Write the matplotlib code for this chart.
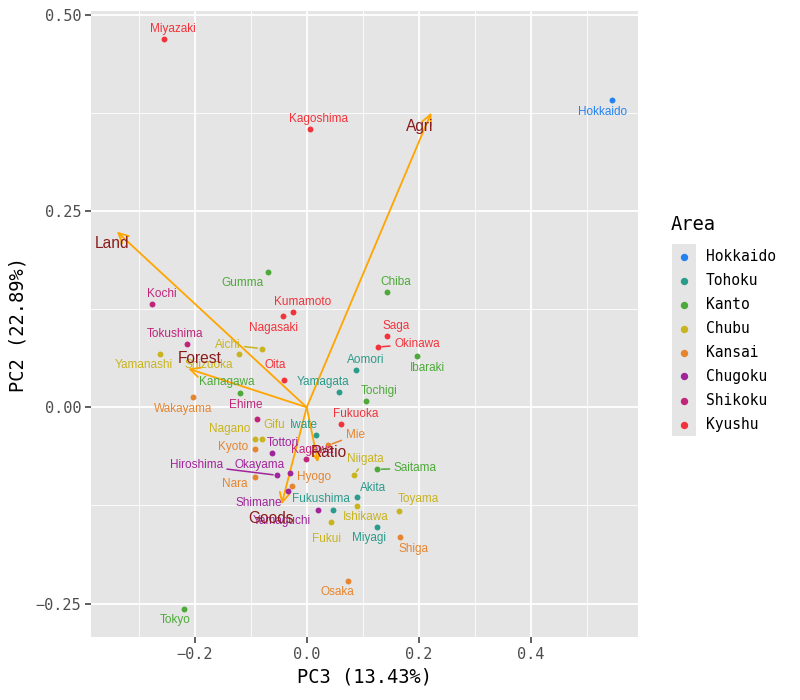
import matplotlib
matplotlib.use("Agg")
import matplotlib.pyplot as plt
from matplotlib.lines import Line2D
from matplotlib.patches import Rectangle

# ---------------- data ----------------
prefectures = ["Hokkaido",
               "Aomori", "Iwate", "Miyagi", "Akita", "Yamagata", "Fukushima",
               "Ibaraki", "Tochigi", "Gumma", "Saitama", "Chiba", "Tokyo", "Kanagawa",
               "Niigata", "Toyama", "Ishikawa", "Fukui", "Yamanashi", "Nagano", "Gifu", "Shizuoka", "Aichi",
               "Mie", "Shiga", "Kyoto", "Osaka", "Hyogo", "Nara", "Wakayama",
               "Tottori", "Shimane", "Okayama", "Hiroshima", "Yamaguchi",
               "Tokushima", "Kagawa", "Ehime", "Kochi",
               "Fukuoka", "Saga", "Nagasaki", "Kumamoto", "Oita", "Miyazaki", "Kagoshima", "Okinawa"]
areas = ["Hokkaido",
         "Tohoku", "Tohoku", "Tohoku", "Tohoku", "Tohoku", "Tohoku",
         "Kanto", "Kanto", "Kanto", "Kanto", "Kanto", "Kanto", "Kanto",
         "Chubu", "Chubu", "Chubu", "Chubu", "Chubu", "Chubu", "Chubu", "Chubu", "Chubu",
         "Kansai", "Kansai", "Kansai", "Kansai", "Kansai", "Kansai", "Kansai",
         "Chugoku", "Chugoku", "Chugoku", "Chugoku", "Chugoku",
         "Shikoku", "Shikoku", "Shikoku", "Shikoku",
         "Kyushu", "Kyushu", "Kyushu", "Kyushu", "Kyushu", "Kyushu", "Kyushu", "Kyushu"]
pc3 = [0.546,
       0.0885, 0.017, 0.126, 0.0903, 0.057, 0.0468,
       0.197, 0.1053, -0.0688, 0.126, 0.1428, -0.2195, -0.1189,
       0.0849, 0.1653, 0.0892, 0.0433, -0.2618, -0.092, -0.080, -0.1206, -0.0806,
       0.0384, 0.1666, -0.092, 0.0735, -0.027, -0.092, -0.2034,
       -0.0627, -0.0341, -0.0295, -0.0527, 0.020,
       -0.2147, -0.002, -0.089, -0.2772,
       0.0606, 0.1428, -0.042, -0.0252, -0.0402, -0.2552, 0.0057, 0.1273]
pc2 = [0.391,
       0.0471, -0.0349, -0.1521, -0.1139, 0.0195, -0.1312,
       0.065, 0.0084, 0.172, -0.079, 0.1465, -0.2566, 0.0178,
       -0.0862, -0.1321, -0.1253, -0.1465, 0.0675, -0.040, -0.0408, 0.0675, 0.0747,
       -0.0484, -0.1652, -0.0527, -0.2217, -0.1003, -0.0888, 0.0135,
       -0.0582, -0.1062, -0.0841, -0.0866, -0.1308,
       0.081, -0.0662, -0.0153, 0.132,
       -0.0209, 0.0912, 0.1163, 0.121, 0.0344, 0.469, 0.3545, 0.0768]

area_levels = ["Hokkaido", "Tohoku", "Kanto", "Chubu", "Kansai", "Chugoku", "Shikoku", "Kyushu"]

variables = ["Agri", "Land", "Forest", "Goods", "Ratio"]
load_pc3 = [0.2225, -0.3392, -0.2118, -0.0449, 0.020]
load_pc2 = [0.3753, 0.2237, 0.0492, -0.1236, -0.0700]

x_ticks = [-0.2, 0.0, 0.2, 0.4]
x_ticklabels = ["−0.2", "0.0", "0.2", "0.4"]
y_ticks = [-0.25, 0.0, 0.25, 0.50]
y_ticklabels = ["−0.25", "0.00", "0.25", "0.50"]
x_title = "PC3 (13.43%)"
y_title = "PC2 (22.89%)"
legend_title = "Area"

# ---------------- style ----------------
colors = {"Hokkaido": "#2283F0", "Tohoku": "#2B9B8B", "Kanto": "#4DAA3A", "Chubu": "#C8B41E",
          "Kansai": "#E5852F", "Chugoku": "#A0259B", "Shikoku": "#C0257A", "Kyushu": "#F2333B"}

# label offsets in pixels (dx right, dy down) and whether a segment is drawn
label_off = {
    "Miyazaki": (9, -10), "Kagoshima": (9, -10), "Hokkaido": (-10, 12), "Gumma": (-26, 11),
    "Kochi": (10, -10), "Kumamoto": (10, -10), "Nagasaki": (-10, 12), "Tokushima": (-12, -10),
    "Aichi": (-34, -4), "Shizuoka": (-30, 11), "Yamanashi": (-16, 11), "Oita": (-9, -15),
    "Kanagawa": (-13, -11), "Wakayama": (-10, 12), "Ehime": (-11, -14), "Chiba": (9, -10),
    "Saga": (9, -10), "Okinawa": (39, -3), "Ibaraki": (10, 12), "Aomori": (9, -10),
    "Yamagata": (-16, -10), "Tochigi": (14, -10), "Fukuoka": (15, -10), "Iwate": (-12, -10),
    "Mie": (27, -10), "Kagawa": (7, -9), "Niigata": (11, -16), "Saitama": (38, -1),
    "Hyogo": (22, -9), "Akita": (16, -9), "Toyama": (19, -12), "Ishikawa": (9, 11),
    "Fukushima": (-12, -11), "Yamaguchi": (-36, 11), "Fukui": (-4, 17), "Miyagi": (-8, 11),
    "Shiga": (14, 12), "Nagano": (-26, -10), "Gifu": (12, -14), "Kyoto": (-22, -2),
    "Tottori": (11, -10), "Hiroshima": (-81, -10), "Okayama": (-31, -8), "Nara": (-20, 7),
    "Shimane": (-29, 12), "Tokyo": (-9, 11), "Osaka": (-10, 11),
}
with_segment = {"Aichi", "Okinawa", "Mie", "Niigata", "Saitama", "Hiroshima"}
var_off = {"Agri": (-12, 14), "Land": (-5, 12), "Forest": (11, -10), "Goods": (-11, 14), "Ratio": (11, -10)}

MONO = "DejaVu Sans Mono"
SANS = "Liberation Sans"

fig = plt.figure(figsize=(8, 7), dpi=100)
ax = fig.add_axes([91 / 800, 1 - 637 / 700, (638 - 91) / 800, (637 - 11) / 700])
ax.set_facecolor("#E5E5E5")
ax.set_xlim(-0.3855, 0.592)
ax.set_ylim(-0.2926, 0.5048)

ax.set_xticks(x_ticks)
ax.set_xticklabels(x_ticklabels, family=MONO, fontsize=11, color="#4D4D4D")
ax.set_yticks(y_ticks)
ax.set_yticklabels(y_ticklabels, family=MONO, fontsize=11, color="#4D4D4D")
ax.set_xticks([-0.3, -0.1, 0.1, 0.3, 0.5], minor=True)
ax.set_yticks([-0.125, 0.125, 0.375], minor=True)
ax.tick_params(axis="both", which="major", length=4, width=1.1, color="#333333", pad=3)
ax.tick_params(axis="both", which="minor", length=0)
ax.grid(which="major", color="white", lw=1.3)
ax.grid(which="minor", color="white", lw=0.6)
ax.set_axisbelow(True)
for s in ax.spines.values():
    s.set_visible(False)

ax.set_xlabel(x_title, family=MONO, fontsize=13.5, color="black", labelpad=4)
ax.set_ylabel(y_title, family=MONO, fontsize=13.5, color="black", labelpad=6)

# arrows
for v, lx, ly in zip(variables, load_pc3, load_pc2):
    ax.annotate("", xy=(lx, ly), xytext=(0, 0),
                arrowprops=dict(arrowstyle="->,head_length=0.7,head_width=0.35", color="#FFA500",
                                lw=1.3, shrinkA=0, shrinkB=0), zorder=3)

# points
for name, a, x, y in zip(prefectures, areas, pc3, pc2):
    ax.scatter([x], [y], s=18, color=colors[a], zorder=4, linewidths=0)

# point labels
for name, a, x, y in zip(prefectures, areas, pc3, pc2):
    dx, dy = label_off[name]
    kw = {}
    if name in with_segment:
        kw["arrowprops"] = dict(arrowstyle="-", color=colors[a], lw=1.1, shrinkA=1, shrinkB=3)
    ax.annotate(name, xy=(x, y), xytext=(dx, -dy), textcoords="offset pixels",
                ha="center", va="center", fontsize=8.5, family=SANS, color=colors[a],
                zorder=5, **kw)

# variable labels
for v, lx, ly in zip(variables, load_pc3, load_pc2):
    dx, dy = var_off[v]
    ax.annotate(v, xy=(lx, ly), xytext=(dx, -dy), textcoords="offset pixels",
                ha="center", va="center", fontsize=11.2, family=SANS, color="#8B1A1A", zorder=6)

# legend (manual, ggplot-like)
def fx(px):
    return px / 800

def fy(py):
    return 1 - py / 700

fig.text(fx(671), fy(225), legend_title, family=MONO, fontsize=13.5, ha="left", va="center")
fig.patches.append(Rectangle((fx(672), fy(436)), fx(696) - fx(672), fy(244) - fy(436),
                             transform=fig.transFigure, facecolor="#E5E5E5", edgecolor="none"))
for i, lev in enumerate(area_levels):
    yc = 256.5 + 24 * i
    fig.add_artist(Line2D([fx(684)], [fy(yc)], marker="o", markersize=4.3, color=colors[lev],
                          linestyle="none", transform=fig.transFigure))
    fig.text(fx(706), fy(yc), lev, family=MONO, fontsize=10.5, ha="left", va="center")

fig.savefig("out.png", dpi=100)
